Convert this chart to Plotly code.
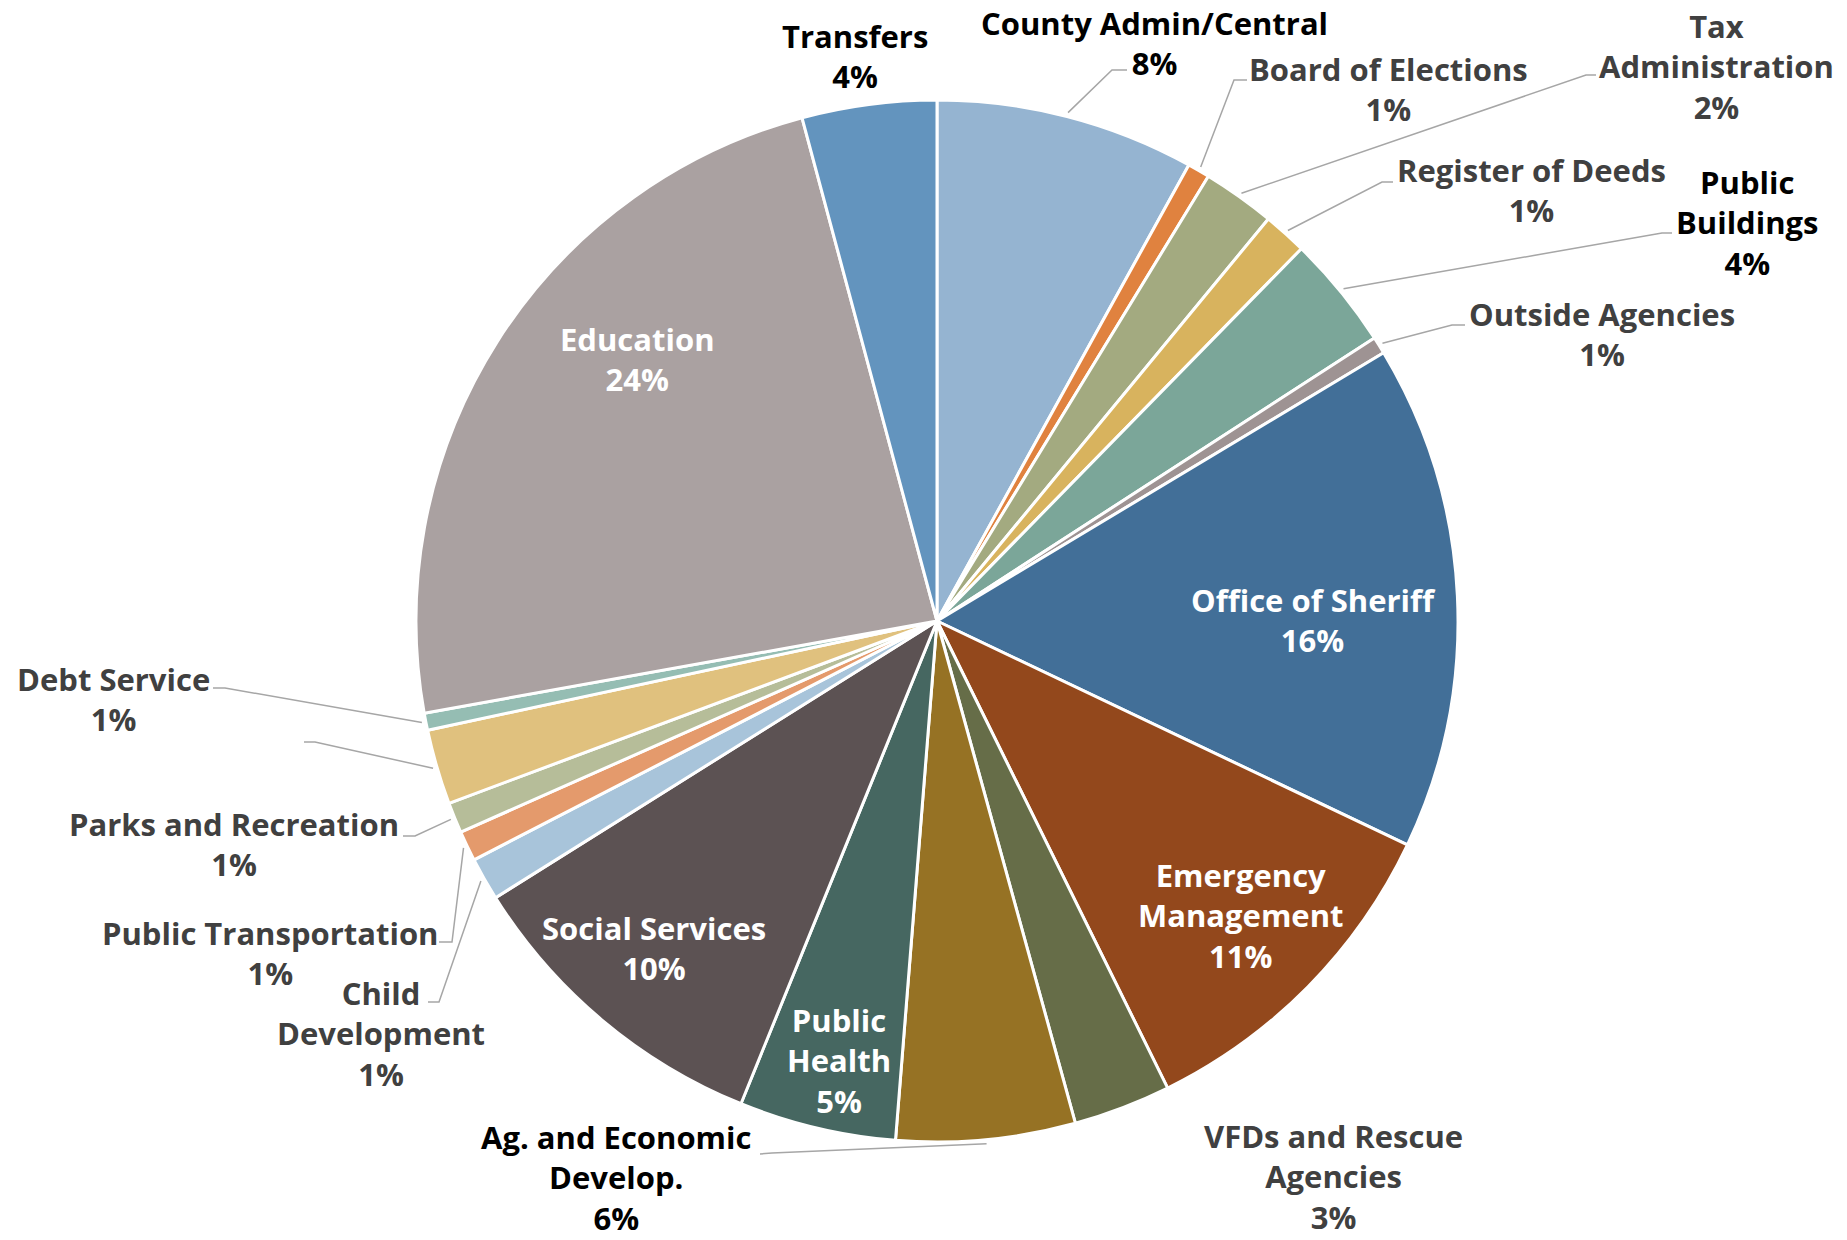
import math
import plotly.graph_objects as go

# ---------------- data ----------------
label_text = [
    "County Admin/Central", "Board of Elections", "Tax<br>Administration",
    "Register of Deeds", "Public<br>Buildings", "Outside Agencies",
    "Office of Sheriff", "Emergency<br>Management", "VFDs and Rescue<br>Agencies",
    "Ag. and Economic<br>Develop.", "Public<br>Health", "Social Services",
    "Child<br>Development", "Public Transportation", "Parks and Recreation",
    "", "Debt Service", "Education", "Transfers",
]
values = [8.03, 0.69, 2.25, 1.36, 3.53, 0.53, 15.68, 10.63, 3.02, 5.55,
          4.87, 9.95, 1.33, 0.94, 0.95, 2.33, 0.53, 23.66, 4.17]
colors = ["#95B4D1", "#E0823F", "#A3AA80", "#D8B35E", "#7BA699", "#9E9393",
          "#426F98", "#93481C", "#666D48", "#967224", "#466761", "#5C5253",
          "#A8C4DA", "#E49A6C", "#B6BD99", "#E0C17E", "#95BDB3", "#AAA1A1",
          "#6394BE"]
names = [t.replace("<br>", " ") for t in label_text]

# ---------------- layout constants ----------------
W, H = 1847, 1240
CX, CY, R = 937, 621, 521

DARK = "#404040"
BLACK = "#000000"
WHITE = "#FFFFFF"
# label block centres (px) and colour, per slice (layout only)
label_pos = [
    (1154, 43, BLACK), (1388, 89, DARK), (1716, 66, DARK), (1531, 190, DARK),
    (1747, 223, BLACK), (1602, 334, DARK), (1313, 620, WHITE), (1240, 915, WHITE),
    (1333, 1176, DARK), (616, 1177, BLACK), (839, 1060, WHITE), (654, 948, WHITE),
    (381, 1033, DARK), (270, 953, DARK), (234, 844, DARK), (None, None, DARK),
    (113, 699, DARK), (637, 359, WHITE), (855, 56, BLACK),
]
# leader line label-side points (px): [outer end, elbow]; None = no leader
leaders = [
    [(1127, 70), (1112, 70)], [(1247, 80), (1234, 80)], [(1596, 75), (1586, 75)],
    [(1393, 182), (1382, 182)], [(1672, 233), (1662, 233)], [(1465, 325), (1452, 325)],
    None, None, None, [(760, 1154), (772, 1153)], None, None,
    [(428, 1002), (439, 1002)], [(439, 942), (452, 942)], [(403, 836), (415, 836)],
    [(304, 742), (315, 742)], [(213, 688), (225, 688)], None, None,
]


def px(x):
    return x / W


def py(y):
    return 1 - y / H


fig = go.Figure()
fig.add_trace(go.Pie(
    labels=names, values=values, sort=False, direction="clockwise", rotation=0,
    marker=dict(colors=colors, line=dict(color="white", width=3)),
    textinfo="none", hoverinfo="label+percent", showlegend=False,
    domain=dict(x=[px(CX - R), px(CX + R)], y=[py(CY + R), py(CY - R)]),
))

total = sum(values)
annotations = []
shapes = []
cum = 0.0
for i, v in enumerate(values):
    frac = v / total
    mid = cum + frac / 2
    cum += frac
    pct = int(math.floor(frac * 100 + 0.5))
    lx, ly, col = label_pos[i]
    if label_text[i] and lx is not None:
        annotations.append(dict(
            x=px(lx), y=py(ly), xref="paper", yref="paper",
            xanchor="center", yanchor="middle", align="center", showarrow=False,
            text=f"{label_text[i]}<br>{pct}%",
            font=dict(family="Open Sans", size=31, color=col, weight="bold"),
        ))
    if leaders[i] is not None:
        th = 2 * math.pi * mid
        ex = CX + (R + 4) * math.sin(th)
        ey = CY - (R + 4) * math.cos(th)
        (ax, ay), (bx, by) = leaders[i]
        path = f"M {px(ax)},{py(ay)} L {px(bx)},{py(by)} L {px(ex)},{py(ey)}"
        shapes.append(dict(type="path", xref="paper", yref="paper", path=path,
                           line=dict(color="#A6A6A6", width=1.5)))

fig.update_layout(
    width=W, height=H, autosize=False,
    margin=dict(l=0, r=0, t=0, b=0),
    paper_bgcolor="white", plot_bgcolor="white",
    annotations=annotations, shapes=shapes,
)
fig.write_html("out.html")
